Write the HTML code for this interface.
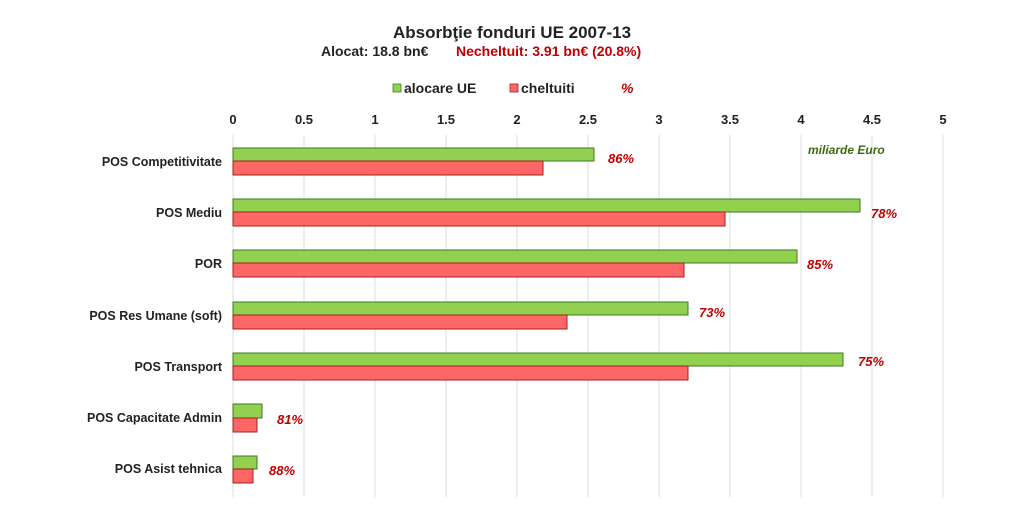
<!DOCTYPE html>
<html><head><meta charset="utf-8"><style>
body{margin:0;background:#fff;}
svg{display:block;font-family:"Liberation Sans",Arial,sans-serif;}
</style></head><body>
<svg width="1024" height="530" viewBox="0 0 1024 530">
<rect width="1024" height="530" fill="#fff"/>
<text x="512" y="38" text-anchor="middle" font-size="17" font-weight="bold" fill="#222">Absorbţie fonduri UE 2007-13</text>
<text x="321" y="56" font-size="14" font-weight="bold" fill="#222">Alocat: 18.8 bn€</text>
<text x="456" y="56" font-size="14" font-weight="bold" fill="#c00000">Necheltuit: 3.91 bn€ (20.8%)</text>
<rect x="393" y="84" width="8" height="8" fill="#92d050" stroke="#4a7a2a" stroke-width="0.8"/>
<text x="404" y="93" font-size="14" font-weight="bold" fill="#222">alocare UE</text>
<rect x="510" y="84" width="8" height="8" fill="#ff6666" stroke="#a02020" stroke-width="0.8"/>
<text x="521" y="93" font-size="14" font-weight="bold" fill="#222">cheltuiti</text>
<text x="621" y="93" font-size="14" font-weight="bold" font-style="italic" fill="#c00000">%</text>
<g font-size="13" font-weight="bold" fill="#222" text-anchor="middle">
<text x="233" y="124">0</text><text x="304" y="124">0.5</text><text x="375" y="124">1</text><text x="446" y="124">1.5</text><text x="517" y="124">2</text><text x="588" y="124">2.5</text><text x="659" y="124">3</text><text x="730" y="124">3.5</text><text x="801" y="124">4</text><text x="872" y="124">4.5</text><text x="943" y="124">5</text>
</g>
<g stroke="#dcdcdc" stroke-width="1">
<line x1="233" y1="135" x2="233" y2="497"/><line x1="304" y1="135" x2="304" y2="497"/><line x1="375" y1="135" x2="375" y2="497"/><line x1="446" y1="135" x2="446" y2="497"/><line x1="517" y1="135" x2="517" y2="497"/><line x1="588" y1="135" x2="588" y2="497"/><line x1="659" y1="135" x2="659" y2="497"/><line x1="730" y1="135" x2="730" y2="497"/><line x1="801" y1="135" x2="801" y2="497"/><line x1="872" y1="135" x2="872" y2="497"/><line x1="943" y1="135" x2="943" y2="497"/>
</g>
<g stroke-width="1">
<rect x="233" y="148" width="361" height="13" fill="#92d050" stroke="#3f7a22"/>
<rect x="233" y="161" width="310" height="14" fill="#ff6666" stroke="#a02020"/>
<rect x="233" y="199" width="627" height="13" fill="#92d050" stroke="#3f7a22"/>
<rect x="233" y="212" width="492" height="14" fill="#ff6666" stroke="#a02020"/>
<rect x="233" y="250" width="564" height="13" fill="#92d050" stroke="#3f7a22"/>
<rect x="233" y="263" width="451" height="14" fill="#ff6666" stroke="#a02020"/>
<rect x="233" y="302" width="455" height="13" fill="#92d050" stroke="#3f7a22"/>
<rect x="233" y="315" width="334" height="14" fill="#ff6666" stroke="#a02020"/>
<rect x="233" y="353" width="610" height="13" fill="#92d050" stroke="#3f7a22"/>
<rect x="233" y="366" width="455" height="14" fill="#ff6666" stroke="#a02020"/>
<rect x="233" y="404" width="29" height="14" fill="#92d050" stroke="#3f7a22"/>
<rect x="233" y="418" width="24" height="14" fill="#ff6666" stroke="#a02020"/>
<rect x="233" y="456" width="24" height="13" fill="#92d050" stroke="#3f7a22"/>
<rect x="233" y="469" width="20" height="14" fill="#ff6666" stroke="#a02020"/>
</g>
<g font-size="12.5" font-weight="bold" fill="#222" text-anchor="end">
<text x="222" y="166">POS Competitivitate</text>
<text x="222" y="217">POS Mediu</text>
<text x="222" y="268">POR</text>
<text x="222" y="320">POS Res Umane (soft)</text>
<text x="222" y="371">POS Transport</text>
<text x="222" y="422">POS Capacitate Admin</text>
<text x="222" y="473">POS Asist tehnica</text>
</g>
<g font-size="13" font-weight="bold" font-style="italic" fill="#c00000">
<text x="608" y="163">86%</text>
<text x="871" y="218">78%</text>
<text x="807" y="269">85%</text>
<text x="699" y="317">73%</text>
<text x="858" y="366">75%</text>
<text x="277" y="424">81%</text>
<text x="269" y="475">88%</text>
</g>
<text x="808" y="154" font-size="12" font-weight="bold" font-style="italic" fill="#3a6a10">miliarde Euro</text>
</svg>
</body></html>
